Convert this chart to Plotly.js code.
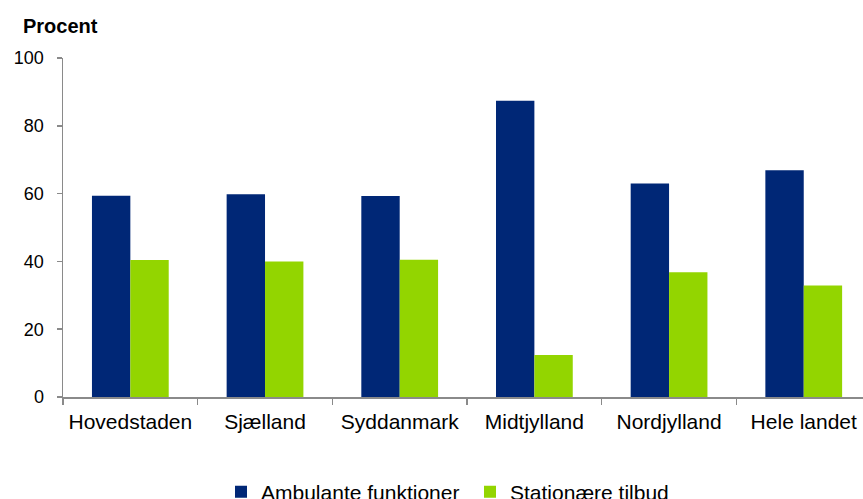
<!DOCTYPE html>
<html>
<head>
<meta charset="utf-8">
<script src="https://cdn.plot.ly/plotly-3.0.1.min.js"></script>
<style>html,body{margin:0;padding:0;background:#fff;}#chart{width:863px;height:499px;}</style>
</head>
<body>
<div id="chart"></div>
<script>
const categories = ["Hovedstaden", "Sjælland", "Syddanmark", "Midtjylland", "Nordjylland", "Hele landet"];
const ambulante = [59.4, 59.8, 59.3, 87.4, 63.0, 66.9];
const stationaere = [40.4, 40.0, 40.5, 12.4, 36.8, 32.9];
const seriesNames = ["Ambulante funktioner", "Stationære tilbud"];
const yTicks = [0, 20, 40, 60, 80, 100];

const font = "Liberation Sans, Arial, sans-serif";

const traces = [
  {type: "bar", name: seriesNames[0], x: categories, y: ambulante,
   marker: {color: "#002776"}},
  {type: "bar", name: seriesNames[1], x: categories, y: stationaere,
   marker: {color: "#93D500"}}
];

const layout = {
  width: 863, height: 499,
  paper_bgcolor: "#ffffff", plot_bgcolor: "#ffffff",
  margin: {l: 63, r: 0, t: 57.5, b: 102, autoexpand: false},
  barmode: "group", bargap: 0.43, bargroupgap: 0,
  showlegend: true,
  font: {family: font, color: "#000000"},
  title: {text: "<b>Procent</b>", font: {family: font, size: 20, color: "#000"},
          x: 23/863, xanchor: "left", xref: "container",
          y: 1 - 26/499, yanchor: "middle", yref: "container"},
  xaxis: {
    type: "category", range: [-0.5, 5.44],
    showline: true, linecolor: "#8a8a8a", linewidth: 1.5,
    ticks: "outside", tickson: "boundaries", ticklen: 6, tickcolor: "#8a8a8a", tickwidth: 1.5,
    tickfont: {family: font, size: 21, color: "#000"},
    ticklabelstandoff: 5,
    showgrid: false, zeroline: false, fixedrange: true
  },
  yaxis: {
    range: [0, 100], tickvals: yTicks,
    showline: true, linecolor: "#8a8a8a", linewidth: 1.5,
    ticks: "outside", ticklen: 5, tickcolor: "#8a8a8a", tickwidth: 1.5,
    tickfont: {family: font, size: 18, color: "#000"},
    ticklabelstandoff: 9,
    showgrid: false, zeroline: false, fixedrange: true
  },
  legend: {
    orientation: "h", x: 0.1975, xanchor: "left", y: -0.22, yanchor: "top",
    font: {family: font, size: 21, color: "#000"},
    itemwidth: 30, entrywidth: 204, bgcolor: "rgba(0,0,0,0)"
  }
};

Plotly.newPlot("chart", traces, layout, {displayModeBar: false, staticPlot: true});
</script>
</body>
</html>
